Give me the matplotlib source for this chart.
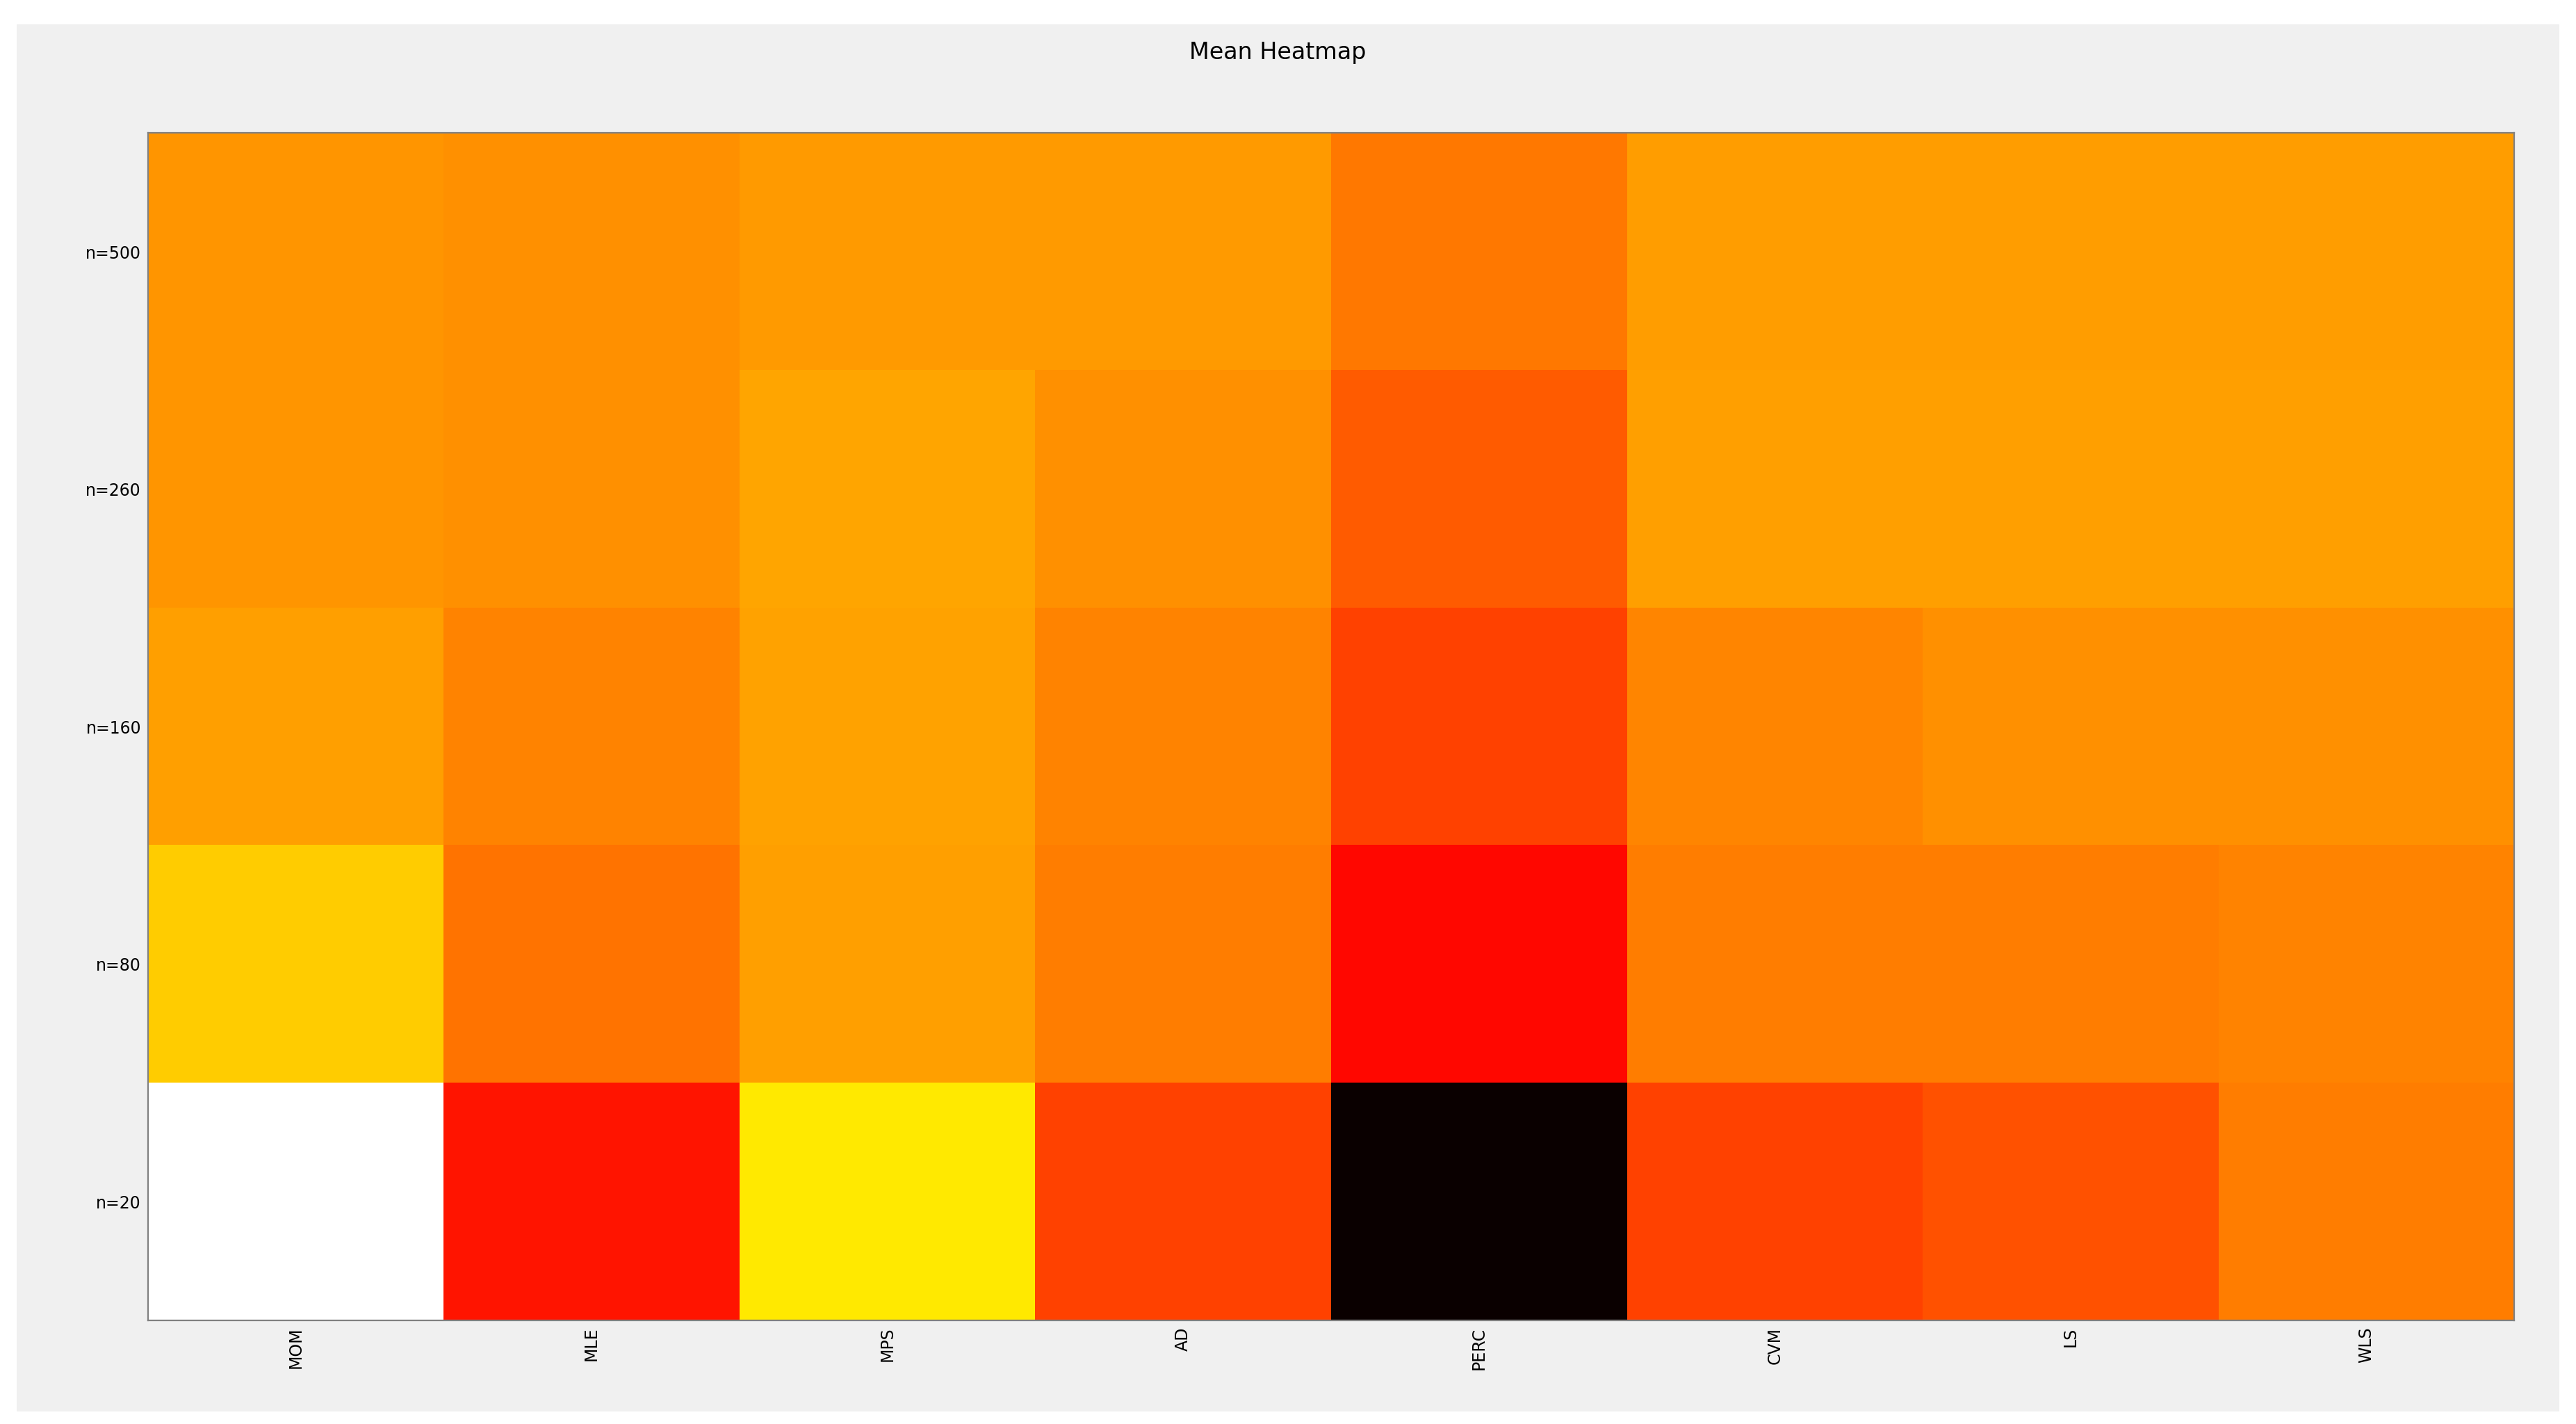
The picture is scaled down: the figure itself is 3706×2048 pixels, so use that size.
import numpy as np
import matplotlib
matplotlib.use("Agg")
import matplotlib.pyplot as plt
from matplotlib.patches import Rectangle

methods = ["MOM", "MLE", "MPS", "AD", "PERC", "CVM", "LS", "WLS"]
sizes = ["n=500", "n=260", "n=160", "n=80", "n=20"]

# values on the 'hot' colour scale (0 = black, 1 = white)
row_500 = [0.588, 0.581, 0.596, 0.596, 0.544, 0.599, 0.599, 0.599]
row_260 = [0.588, 0.581, 0.610, 0.581, 0.500, 0.603, 0.603, 0.603]
row_160 = [0.603, 0.559, 0.607, 0.559, 0.463, 0.563, 0.581, 0.581]
row_80 = [0.669, 0.537, 0.603, 0.551, 0.375, 0.551, 0.551, 0.559]
row_20 = [1.000, 0.397, 0.713, 0.463, 0.000, 0.463, 0.485, 0.551]

data = np.array([row_500, row_260, row_160, row_80, row_20])

fig = plt.figure(figsize=(18.53, 10.24), dpi=200, facecolor="white")
fig.patches.append(Rectangle((0.0065, 0.009), 0.987, 0.974, transform=fig.transFigure,
                             facecolor="#f0f0f0", edgecolor="none", zorder=-1))
ax = fig.add_axes([0.0574, 0.0727, 0.9186, 0.8338])
ax.imshow(data, cmap="hot", vmin=0, vmax=1, aspect="auto", interpolation="nearest")
ax.set_xticks(range(len(methods)))
ax.set_xticklabels(methods, rotation=90, fontsize=8.5)
ax.set_yticks(range(len(sizes)))
ax.set_yticklabels(sizes, fontsize=8.5)
ax.tick_params(length=0)
for s in ax.spines.values():
    s.set_color("#808080")
    s.set_linewidth(0.8)
fig.text(0.496, 0.963, "Mean Heatmap", ha="center", va="center", fontsize=12)

fig.savefig("out.png", dpi=200, facecolor=fig.get_facecolor())
